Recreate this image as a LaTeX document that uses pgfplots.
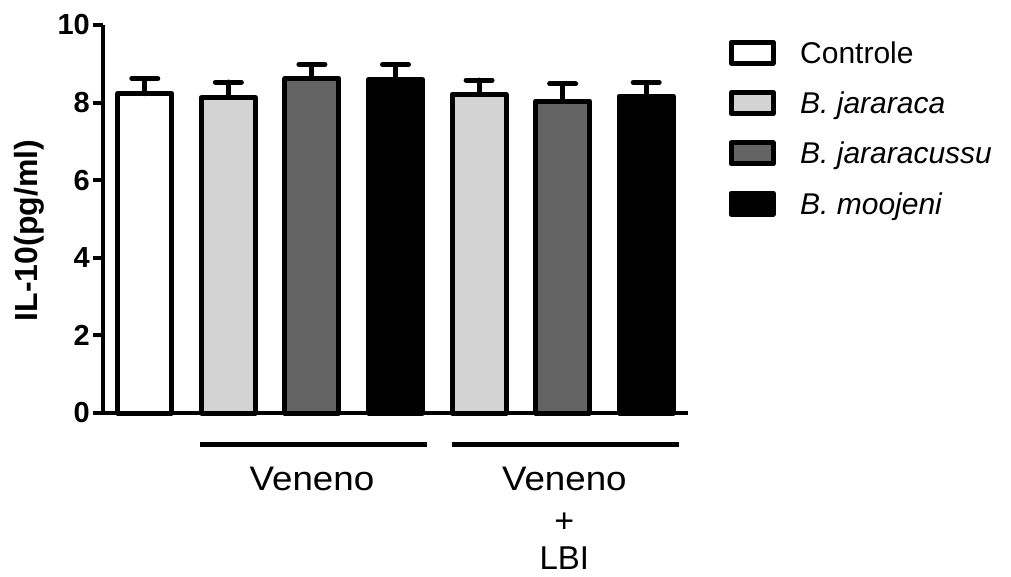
\documentclass[border=0pt]{standalone}
\usepackage{fontspec}
\setmainfont{Liberation Sans}
\usepackage{pgfplots}
\pgfplotsset{compat=1.18}
\definecolor{lgray}{RGB}{211,211,211}
\definecolor{dgray}{RGB}{99,99,99}
\begin{document}
\begin{tikzpicture}
\begin{axis}[
  scale only axis, width=585pt, height=388pt,
  xmin=0.5, xmax=7.5, ymin=0, ymax=10,
  axis x line=bottom, axis y line=left,
  axis line style={line width=4pt, -},
  xtick=\empty,
  ytick={0,2,...,10},
  tick align=outside,
  major tick length=10pt,
  every tick/.style={line width=4pt, black},
  y tick label style={font=\fontsize{29}{32}\selectfont\bfseries, inner sep=3pt},
  /pgf/number format/assume math mode=true,
  ylabel={IL-10(pg/ml)},
  ylabel style={at={(axis description cs:-0.1128,0.47)}, anchor=base, inner sep=0pt, font=\fontsize{32}{36}\selectfont\bfseries},
  ybar, bar width=54pt, bar shift=0pt,
  clip=false,
  legend cell align=left,
  legend style={at={(axis description cs:1.0692,0.9626)}, anchor=north west, draw=none, fill=none, inner sep=0pt, row sep=24.3pt,
    nodes={inner sep=0pt, text height=21pt, text depth=0pt, font=\fontsize{30}{34}\selectfont}},
  mybar/.style={draw=black, line width=5pt, line join=round,
    error bars/y dir=plus, error bars/y explicit,
    error bars/error bar style={line width=5pt, line cap=round, black},
    error bars/error mark options={rotate=90, line width=5pt, mark size=13pt, line cap=round, black},
    legend image code/.code={\draw[##1, line width=5pt, line join=round] (0pt,-10.5pt) rectangle (42pt,10.5pt); \path (66.5pt,0pt);}},
]
\addplot[mybar, fill=white] coordinates {(1,8.23) +- (0,0.39)};
\addplot[mybar, fill=lgray] coordinates {(2,8.13) +- (0,0.40)};
\addplot[mybar, fill=dgray] coordinates {(3,8.62) +- (0,0.36)};
\addplot[mybar, fill=black] coordinates {(4,8.59) +- (0,0.39)};
\addplot[mybar, fill=lgray, forget plot] coordinates {(5,8.21) +- (0,0.37)};
\addplot[mybar, fill=dgray, forget plot] coordinates {(6,8.04) +- (0,0.44)};
\addplot[mybar, fill=black, forget plot] coordinates {(7,8.17) +- (0,0.35)};
\legend{Controle, \textit{B. jararaca}, \textit{B. jararacussu}, \textit{B. moojeni}}
\draw[line width=5pt] (axis cs:1.661,-0.80) -- (axis cs:4.377,-0.80);
\draw[line width=5pt] (axis cs:4.676,-0.80) -- (axis cs:7.392,-0.80);
\node[anchor=base, inner sep=0pt, font=\fontsize{34}{38}\selectfont, xscale=1.08] at (axis cs:3,-1.985) {Veneno};
\node[anchor=base, inner sep=0pt, font=\fontsize{34}{38}\selectfont, xscale=1.08] at (axis cs:6.02,-1.985) {Veneno};
\node[anchor=base, inner sep=0pt, font=\fontsize{34}{38}\selectfont] at (axis cs:6.02,-3.08) {+};
\node[anchor=base, inner sep=0pt, font=\fontsize{33}{38}\selectfont] at (axis cs:6.02,-4.04) {LBI};
\end{axis}
\pgfresetboundingbox
\path[use as bounding box] (-103pt,-163pt) rectangle (908pt,413pt);
\end{tikzpicture}
\end{document}
